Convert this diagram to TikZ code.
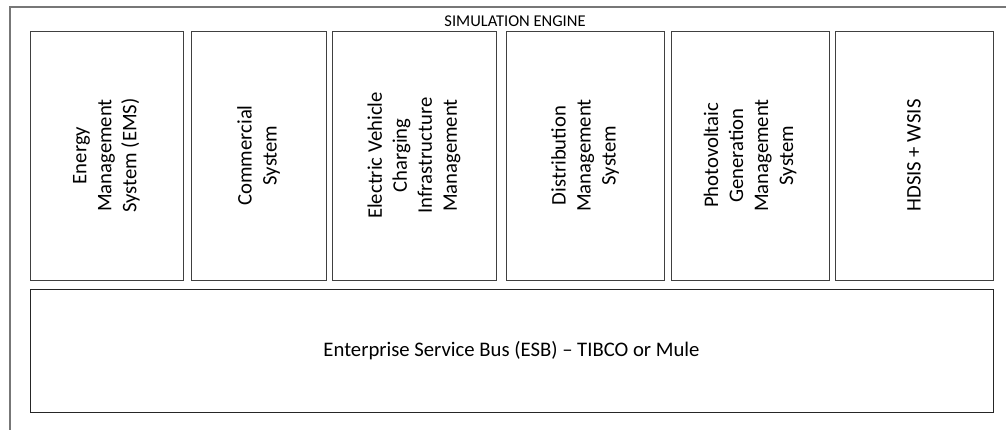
\documentclass[tikz,border=0pt]{standalone}
\usepackage{fontspec}
\setmainfont{Carlito}
\usepackage{xcolor}
\usetikzlibrary{positioning}
\definecolor{framegray}{HTML}{777777}
\definecolor{boxgray}{HTML}{404040}
\tikzset{%
	module/.style = {draw=boxgray, line width=1pt, rectangle, rotate=90, inner sep=0pt, minimum width=249pt, align=center, font=\fontsize{20.7}{25}\selectfont},
	bus/.style    = {draw=black!85, line width=1pt, rectangle, inner sep=0pt, minimum width=963pt, minimum height=123pt, font=\fontsize{20.7}{25}\selectfont},
	caption/.style= {inner sep=0pt, font=\fontsize{16.5}{20}\selectfont},
}
\begin{document}
\begin{tikzpicture}[x=1pt,y=-1pt]
	\useasboundingbox (0,0) rectangle (1006,429);
	\draw[framegray, line width=1.2pt] (10,440) -- (10,7) -- (1020,7);  % outer frame
	\node[caption] (title) at (515,21) {SIMULATION ENGINE};
	% modules
	\node[module, minimum height=153pt] (ems) at (106.5,155.5) {Energy\\Management\\System (EMS)};
	\node[module, minimum height=135pt] (cs) at (258.5,155.5) {Commercial\\System};
	\node[module, minimum height=164pt] (evci) at (414,155.5) {Electric Vehicle\\Charging\\Infrastructure\\Management};
	\node[module, minimum height=158pt] (dms) at (585,155.5) {Distribution\\Management\\System};
	\node[module, minimum height=158pt] (pvgms) at (750,155.5) {Photovoltaic\\Generation\\Management\\System};
	\node[module, minimum height=158pt] (hdsis) at (914,155.5) {HDSIS + WSIS};
	% service bus
	\node[bus] (esb) at (511.5,350.5) {Enterprise Service Bus (ESB) -- TIBCO or Mule};
\end{tikzpicture}
\end{document}
